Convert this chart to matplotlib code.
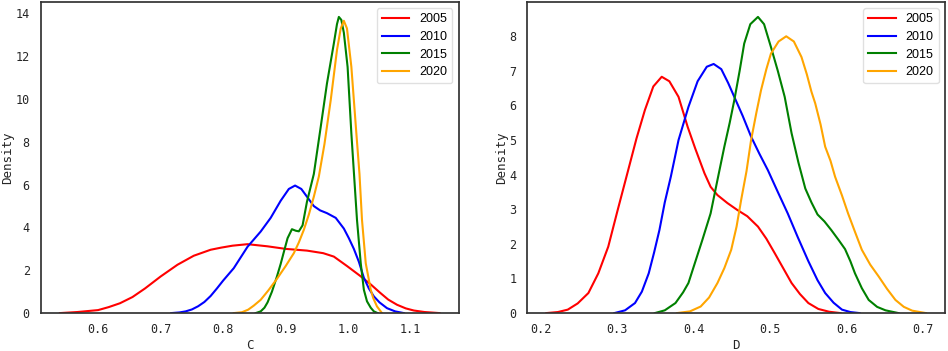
import matplotlib
matplotlib.use("Agg")
import matplotlib.pyplot as plt

years = ["2005", "2010", "2015", "2020"]
colors = ["red", "blue", "green", "orange"]

# density curves, panel C
c_2005_x = [0.539, 0.567, 0.600, 0.617, 0.635, 0.655, 0.675, 0.700, 0.727, 0.753, 0.780, 0.797, 0.815,
            0.839, 0.871, 0.900, 0.934, 0.960, 0.977, 0.998, 1.019, 1.036, 1.051, 1.064, 1.078, 1.092,
            1.105, 1.122, 1.146]
c_2005_y = [0, 0.05, 0.14, 0.28, 0.46, 0.75, 1.15, 1.71, 2.26, 2.68, 2.96, 3.06, 3.15,
            3.22, 3.12, 3.0, 2.92, 2.8, 2.64, 2.2, 1.74, 1.34, 0.95, 0.63, 0.39, 0.22,
            0.12, 0.05, 0]
c_2010_x = [0.717, 0.730, 0.740, 0.750, 0.760, 0.770, 0.780, 0.790, 0.800, 0.817, 0.839, 0.860, 0.876,
            0.892, 0.905, 0.915, 0.925, 0.935, 0.945, 0.955, 0.966, 0.980, 0.993, 1.001, 1.009, 1.017,
            1.025, 1.033, 1.041, 1.050, 1.062, 1.075, 1.089]
c_2010_y = [0, 0.03, 0.08, 0.17, 0.32, 0.52, 0.8, 1.15, 1.52, 2.1, 3.1, 3.81, 4.45,
            5.25, 5.8, 5.96, 5.8, 5.4, 5.0, 4.8, 4.67, 4.45, 3.95, 3.5, 3.0, 2.4,
            1.65, 1.15, 0.78, 0.5, 0.23, 0.08, 0]
c_2015_x = [0.852, 0.860, 0.866, 0.871, 0.878, 0.886, 0.892, 0.897, 0.903, 0.910, 0.916, 0.921, 0.927,
            0.934, 0.945, 0.956, 0.966, 0.977, 0.982, 0.985, 0.989, 0.993, 0.999, 1.005, 1.009, 1.014,
            1.020, 1.025, 1.030, 1.036, 1.041, 1.047]
c_2015_y = [0, 0.08, 0.25, 0.5, 1.0, 1.71, 2.3, 2.85, 3.5, 3.92, 3.85, 3.82, 4.1,
            5.2, 6.5, 8.7, 10.73, 12.6, 13.5, 13.84, 13.7, 13.1, 11.5, 8.4, 6.6, 4.36,
            2.33, 1.09, 0.55, 0.25, 0.08, 0]
c_2020_x = [0.817, 0.830, 0.840, 0.849, 0.860, 0.872, 0.886, 0.900, 0.913, 0.921, 0.929, 0.937, 0.945,
            0.953, 0.962, 0.972, 0.982, 0.988, 0.993, 0.998, 1.005, 1.013, 1.018, 1.022, 1.028, 1.036,
            1.040, 1.046, 1.054]
c_2020_y = [0, 0.04, 0.16, 0.35, 0.62, 1.05, 1.6, 2.2, 2.8, 3.3, 3.89, 4.6, 5.44,
            6.38, 7.9, 9.95, 12.29, 13.3, 13.66, 13.3, 11.51, 8.4, 6.5, 4.36, 2.33, 1.09,
            0.7, 0.31, 0]

# panel D
d_2005_x = [0.207, 0.222, 0.235, 0.248, 0.262, 0.275, 0.288, 0.300, 0.313, 0.325, 0.336, 0.347, 0.358,
            0.368, 0.380, 0.392, 0.402, 0.414, 0.422, 0.431, 0.444, 0.457, 0.470, 0.484, 0.495, 0.506,
            0.517, 0.528, 0.539, 0.550, 0.563, 0.577, 0.592]
d_2005_y = [0, 0.03, 0.1, 0.28, 0.58, 1.15, 1.92, 2.95, 4.04, 5.05, 5.87, 6.55, 6.83,
            6.7, 6.25, 5.38, 4.75, 4.04, 3.65, 3.41, 3.18, 2.98, 2.8, 2.5, 2.15, 1.73,
            1.3, 0.87, 0.55, 0.29, 0.12, 0.04, 0]
d_2010_x = [0.296, 0.310, 0.323, 0.332, 0.341, 0.348, 0.355, 0.362, 0.370, 0.380, 0.393, 0.405, 0.417,
            0.426, 0.436, 0.445, 0.453, 0.464, 0.475, 0.486, 0.497, 0.510, 0.523, 0.536, 0.550, 0.562,
            0.572, 0.583, 0.594, 0.605, 0.617]
d_2010_y = [0, 0.08, 0.29, 0.62, 1.15, 1.75, 2.4, 3.2, 3.95, 5.0, 5.96, 6.7, 7.12,
            7.2, 7.05, 6.65, 6.25, 5.7, 5.1, 4.6, 4.13, 3.5, 2.88, 2.2, 1.5, 0.95,
            0.58, 0.3, 0.1, 0.03, 0]
d_2015_x = [0.349, 0.362, 0.376, 0.386, 0.393, 0.400, 0.411, 0.422, 0.431, 0.440, 0.447, 0.453, 0.460,
            0.466, 0.474, 0.484, 0.492, 0.501, 0.510, 0.519, 0.528, 0.537, 0.546, 0.554, 0.562, 0.571,
            0.580, 0.590, 0.598, 0.605, 0.611, 0.620, 0.629, 0.640, 0.651, 0.668]
d_2015_y = [0, 0.08, 0.29, 0.6, 0.87, 1.35, 2.1, 2.88, 3.85, 4.81, 5.5, 6.15, 7.0,
            7.79, 8.35, 8.56, 8.35, 7.69, 7.0, 6.25, 5.2, 4.35, 3.6, 3.2, 2.85, 2.65,
            2.4, 2.1, 1.85, 1.5, 1.15, 0.72, 0.38, 0.18, 0.08, 0]
d_2020_x = [0.378, 0.395, 0.409, 0.420, 0.431, 0.440, 0.449, 0.456, 0.462, 0.469, 0.475, 0.482, 0.488,
            0.495, 0.501, 0.511, 0.521, 0.531, 0.541, 0.548, 0.554, 0.559, 0.566, 0.572, 0.579, 0.585,
            0.594, 0.602, 0.611, 0.620, 0.631, 0.642, 0.653, 0.664, 0.675, 0.686, 0.704]
d_2020_y = [0, 0.05, 0.19, 0.45, 0.87, 1.3, 1.83, 2.5, 3.27, 4.1, 5.0, 5.8, 6.44,
            7.05, 7.5, 7.85, 8.0, 7.85, 7.4, 6.9, 6.4, 6.06, 5.45, 4.81, 4.4, 3.94,
            3.4, 2.88, 2.35, 1.83, 1.4, 1.06, 0.7, 0.38, 0.18, 0.07, 0]

panels = [
    ("C", [(c_2005_x, c_2005_y), (c_2010_x, c_2010_y), (c_2015_x, c_2015_y), (c_2020_x, c_2020_y)]),
    ("D", [(d_2005_x, d_2005_y), (d_2010_x, d_2010_y), (d_2015_x, d_2015_y), (d_2020_x, d_2020_y)]),
]

mono = "DejaVu Sans Mono"

fig, axes = plt.subplots(1, 2, figsize=(9.48, 3.51), dpi=100)
fig.subplots_adjust(left=0.0432, right=0.9968, bottom=0.108, top=0.994, wspace=0.165)

for ax, (name, curves) in zip(axes, panels):
    for (xs, ys), year, col in zip(curves, years, colors):
        ax.plot(xs, ys, color=col, lw=1.5, label=year)
    ax.margins(x=0.05, y=0.05)
    ax.autoscale_view()
    ax.set_ylim(bottom=0)

    for sp in ax.spines.values():
        sp.set_color("0.2")
        sp.set_linewidth(1.25)
    ax.tick_params(axis="x", length=0, pad=7, labelsize=8.5, labelcolor="0.15")
    ax.tick_params(axis="y", length=0, pad=8, labelsize=8.5, labelcolor="0.15")
    for lab in ax.get_xticklabels() + ax.get_yticklabels():
        lab.set_family(mono)

    ax.set_xlabel(name, family=mono, fontsize=9, color="0.15", labelpad=2)
    ax.set_ylabel("Density", family=mono, fontsize=9, color="0.15", labelpad=1)

    leg = ax.legend(loc="upper right", prop={"family": "Liberation Sans", "size": 9},
                    handlelength=2.2, labelspacing=0.45, fancybox=True)
    leg.get_frame().set_edgecolor("0.85")

fig.savefig("out.png", dpi=100)
